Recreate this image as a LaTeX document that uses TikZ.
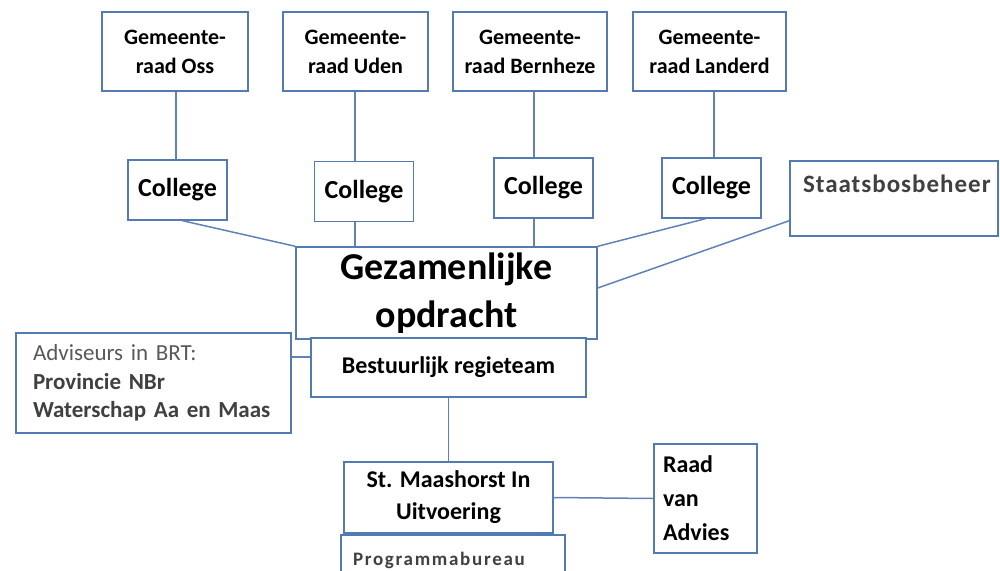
\documentclass[tikz,border=0pt]{standalone}
\usepackage{fontspec}
\setmainfont{Carlito}
\definecolor{boxblue}{RGB}{84,122,178}
\definecolor{linkblue}{RGB}{96,130,182}
\definecolor{darktext}{RGB}{64,64,64}
\definecolor{greytext}{RGB}{89,89,89}

\begin{document}
\begin{tikzpicture}[x=1pt,y=-1pt,
	box/.style={draw=boxblue,line width=1.4pt,fill=white,inner sep=0pt},
	link/.style={draw=linkblue,line width=1.5pt}]
		\useasboundingbox (0,0) rectangle (1000,570);
		\clip (0,0) rectangle (1000,570);

		\foreach \i/\x/\gx/\w/\cx/\cy/\plaats in {1/175/176/146/177.5/190/Oss, 2/355.5/355/145/364/191.5/Uden, 3/530/534/154/543.5/188/Bernheze, 4/709.5/714/153/711.5/188/Landerd}
		{
			\node[box,minimum width=\w,minimum height=79,align=center,font=\bfseries\fontsize{22}{29}\selectfont] (raad\i) at (\x,51.5) {Gemeente-\\raad \plaats};
			\node[box,minimum width=99,minimum height=60,font=\bfseries\fontsize{26}{30}\selectfont] (college\i) at (\cx,\cy) {College};
			\coordinate (col\i) at (\gx,0);
		}
		\foreach \i in {1,...,4}
		\draw[link] (col\i |- raad\i.south) -- (col\i |- college\i.north);

		\node[box,minimum width=301,minimum height=92,align=center,font=\bfseries\fontsize{38}{48}\selectfont] (opdracht) at (446.5,293) {Gezamenlijke\\opdracht};
		\node[box,minimum width=275,minimum height=59,font=\bfseries\fontsize{24}{29}\selectfont] (regie) at (448.5,367.5) {Bestuurlijk regieteam};
		\node[box,minimum width=275,minimum height=100,text width=241,align=left,font=\fontsize{23}{28.5}\selectfont] (adviseurs) at (153.5,383) {\textcolor{greytext}{Adviseurs in BRT:}\\ \textcolor{darktext}{\textbf{Provincie NBr}}\\ \textcolor{darktext}{\textbf{Waterschap Aa en Maas}}};
		\node[box,minimum width=208,minimum height=75,text width=182,align=left,text height=18,text depth=30,text=darktext,font=\bfseries\fontsize{25}{30}\selectfont\addfontfeature{LetterSpace=4}] (sbb) at (894,198.5) {Staatsbosbeheer};
		\node[box,minimum width=209,minimum height=71,align=center,font=\bfseries\fontsize{24}{32}\selectfont] (stichting) at (448.5,497.5) {St. Maashorst In\\Uitvoering};
		\node[box,minimum width=224,minimum height=50,text width=200,align=left,text=darktext,font=\bfseries\fontsize{19}{22}\selectfont\addfontfeature{LetterSpace=9}] (bureau) at (453,560) {Programmabureau};
		\node[box,minimum width=103,minimum height=109,text width=85,align=left,font=\bfseries\fontsize{24}{34}\selectfont] (advies) at (705.5,498.5) {Raad\\van\\Advies};

		\coordinate (brt) at (0,357);
		\draw[link] ([xshift=5pt]college1.south) -- (opdracht.north west);
		\draw[link] (col2 |- college2.south) -- (col2 |- opdracht.north);
		\draw[link] (col3 |- college3.south) -- (col3 |- opdracht.north);
		\draw[link] ([xshift=-6pt]college4.south) -- (opdracht.north east);
		\draw[link] ([yshift=16pt]sbb.south west) -- ([yshift=5pt]opdracht.east);
		\draw[link] (adviseurs.east |- brt) -- (regie.west |- brt);
		\draw[link] (regie.south) -- (regie.south |- stichting.north);
		\draw[link] (stichting.east) -- (advies.west);
	    \end{tikzpicture}
\end{document}
